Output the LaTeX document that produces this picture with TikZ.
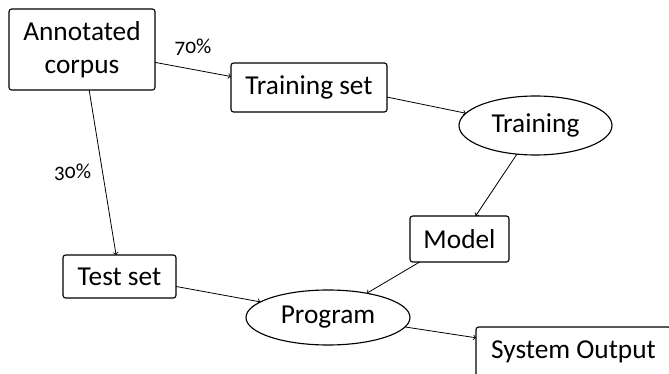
\documentclass[tikz,border=0pt]{standalone}
\usepackage{fontspec}
\setmainfont[Numbers=OldStyle]{Carlito}
\usetikzlibrary{shapes.geometric}
\begin{document}
\begin{tikzpicture}[x=0.75pt,y=-0.75pt,
  every node/.style={inner sep=0pt,outer sep=0pt,font=\fontsize{20.5}{24.5}\selectfont},
  boxnode/.style={draw,line width=0.85pt,rounded corners=2pt,align=center},
  ovalnode/.style={draw,ellipse,line width=0.85pt},
  link/.style={->,line width=0.6pt},
  lbl/.style={font=\fontsize{16}{18}\selectfont}]
  \clip (0,0) rectangle (669,374);
  \fill[white] (0,0) rectangle (669,374);

  % nodes
  \node[boxnode,minimum width=109.5pt,minimum height=60.75pt] (ac) at (82,49.5) {Annotated\\corpus};
  \node[boxnode,minimum width=117pt,minimum height=36.75pt] (ts) at (309,87.5) {Training set};
  \node[ovalnode,minimum width=114.75pt,minimum height=44.25pt] (tr) at (535.5,125.5) {Training};
  \node[boxnode,minimum width=74.25pt,minimum height=34.5pt] (md) at (459.5,239) {Model};
  \node[boxnode,minimum width=84.75pt,minimum height=32.25pt] (te) at (119.5,276.5) {Test set};
  \node[ovalnode,minimum width=123pt,minimum height=41.25pt] (pg) at (328,317.5) {Program};
  \node[boxnode,minimum width=146.25pt,minimum height=36.75pt] (so) at (573.5,351.5) {System Output};

  % connectors
  \draw[link] (ac.-10.5) -- node[lbl,midway,yshift=16.5pt] {70\%} (ts.172.3);
  \draw[link] (ac.-80.2) -- node[lbl,midway,xshift=-22.5pt] {30\%} (te.99.2);
  \draw[link] (ts.-7.7) -- (tr.170.9);
  \draw[link] (tr.-123.5) -- (md.55.5);
  \draw[link] (md.210.2) -- (pg.32.6);
  \draw[link] (te.-10.5) -- (pg.167.5);
  \draw[link] (pg.-7.1) -- (so.172.1);
\end{tikzpicture}
\end{document}
